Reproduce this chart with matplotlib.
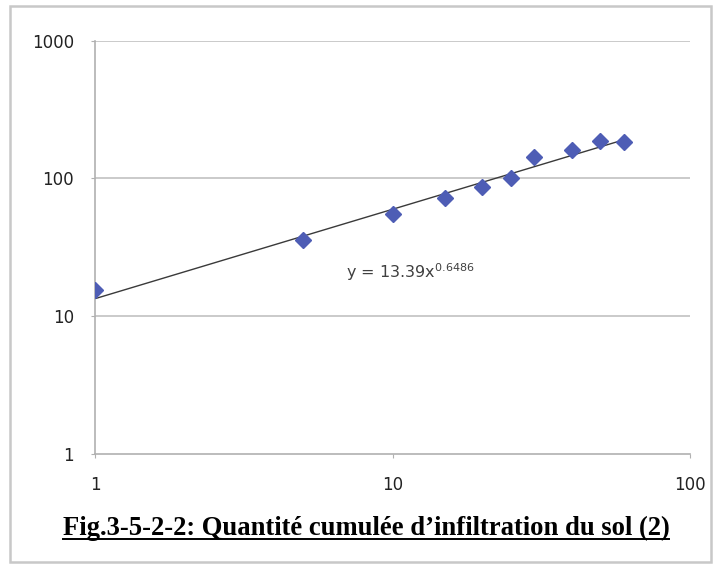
import numpy as np
import matplotlib
matplotlib.use("Agg")
import matplotlib.pyplot as plt
from matplotlib.patches import Rectangle
from matplotlib.lines import Line2D

# Data
time_min = [1, 5, 10, 15, 20, 25, 30, 40, 50, 60]
cum_infiltration = [15.4, 35.5, 55.5, 72.5, 86, 101, 142, 161, 186, 184]
fit_a = 13.39
fit_b = 0.6486
y_ticks = [1, 10, 100, 1000]
y_tick_labels = ["1", "10", "100", "1000"]
x_ticks = [1, 10, 100]
x_tick_labels = ["1", "10", "100"]
equation_text = "y = 13.39x$^{0.6486}$"
caption = "Fig.3-5-2-2: Quantité cumulée d\u2019infiltration du sol (2)"

fig = plt.figure(figsize=(7.24, 5.66), dpi=100)

# outer border
fig.patches.append(Rectangle((10/724, 4/566), 701/724, 556/566, transform=fig.transFigure,
                             fill=False, edgecolor="#c8c8c8", linewidth=1.8))

ax = fig.add_axes([95/724, 112/566, 595/724, 413.5/566])
ax.set_xscale("log")
ax.set_yscale("log")
ax.set_xlim(1, 100)
ax.set_ylim(1, 1000)

for yv in [10, 100, 1000]:
    ax.axhline(yv, color="#c6c6c6", linewidth=1.3, zorder=0)

xs = np.logspace(np.log10(min(time_min)), np.log10(max(time_min)), 50)
ax.plot(xs, fit_a * xs ** fit_b, color="#3a3a3a", linewidth=1.0, zorder=2)
ax.plot(time_min, cum_infiltration, linestyle="none", marker="D", markersize=8.5,
        color="#4e5db5", markeredgecolor="#4e5db5", zorder=3)

ax.text(10 ** 0.845, 10 ** 1.32, equation_text, fontsize=11.5, color="#404040",
        ha="left", va="center", family="DejaVu Sans")

for s in ["top", "right"]:
    ax.spines[s].set_visible(False)
for s in ["left", "bottom"]:
    ax.spines[s].set_color("#b0b0b0")
    ax.spines[s].set_linewidth(1.2)

ax.set_yticks(y_ticks)
ax.set_yticklabels(y_tick_labels)
ax.set_xticks(x_ticks)
ax.set_xticklabels(x_tick_labels)
ax.minorticks_off()
ax.tick_params(axis="both", which="major", length=3, color="#b0b0b0", labelsize=12,
               labelcolor="#222222")
ax.tick_params(axis="y", pad=12)
ax.tick_params(axis="x", pad=13)

t = fig.text(366/724, 1 - 528/566, caption, ha="center", va="center",
             fontsize=19.2, fontweight="bold", family="Liberation Serif", color="black")
fig.canvas.draw()
bb = t.get_window_extent()
inv = fig.transFigure.inverted()
(x0, y0), (x1, y1) = inv.transform([[bb.x0, bb.y0], [bb.x1, bb.y1]])
fig.lines.append(Line2D([x0, x1], [y0 + 2/566, y0 + 2/566], transform=fig.transFigure,
                        color="black", linewidth=1.4))

fig.savefig("out.png", dpi=100)
